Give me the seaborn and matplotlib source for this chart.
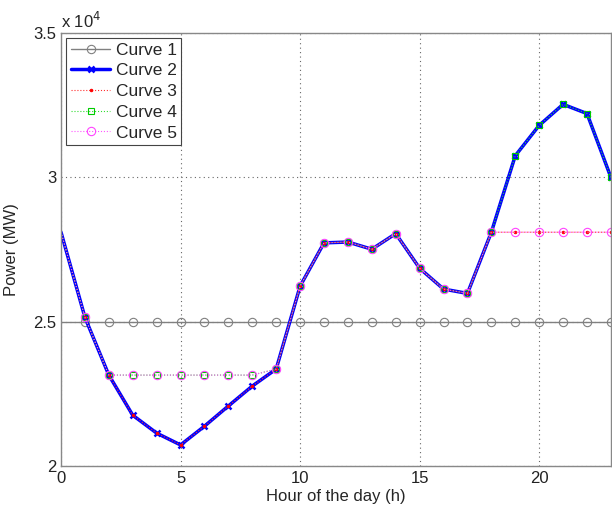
import matplotlib
matplotlib.use("Agg")
import matplotlib.pyplot as plt
import seaborn as sns

# Hourly data
hours = list(range(24))
curve1 = [25000] * 24
curve2 = [28100, 25150, 23150, 21760, 21140, 20730, 21380, 22080, 22770, 23360,
          26230, 27730, 27760, 27510, 28050, 26850, 26130, 25980, 28100, 30750,
          31800, 32530, 32210, 30000]
curve3 = [28100, 25150, 23150, 21760, 21140, 20730, 21380, 22080, 22770, 23360,
          26230, 27730, 27760, 27510, 28050, 26850, 26130, 25980, 28100, 28100,
          28100, 28100, 28100, 28100]
curve4 = [28100, 25150, 23150, 23150, 23150, 23150, 23150, 23150, 23150, 23360,
          26230, 27730, 27760, 27510, 28050, 26850, 26130, 25980, 28100, 30750,
          31800, 32530, 32210, 30000]
curve5 = [28100, 25150, 23150, 23150, 23150, 23150, 23150, 23150, 23150, 23360,
          26230, 27730, 27760, 27510, 28050, 26850, 26130, 25980, 28100, 28100,
          28100, 28100, 28100, 28100]
labels = ["Curve 1", "Curve 2", "Curve 3", "Curve 4", "Curve 5"]
y_ticks = [20000, 25000, 30000, 35000]
y_ticklabels = ["2", "2.5", "3", "3.5"]

sns.set_style("white")
plt.rcParams["font.family"] = ["Liberation Sans", "DejaVu Sans"]

fig = plt.figure(figsize=(6.12, 5.12), dpi=100)
ax = fig.add_axes([0.0997, 0.0898, 0.8985, 0.8457])

styles = [
    dict(color="#808080", lw=1.0, ls="-", marker="o", ms=6, mfc="none", mec="#808080", mew=0.8),
    dict(color="#0000ff", lw=2.5, ls="-", marker="x", ms=4.5, mec="#0000ff", mew=1.8),
    dict(color="#ff3030", lw=0.8, ls=":", marker=".", ms=3.5, mfc="#ff0000", mec="#ff0000"),
    dict(color="#33dd33", lw=0.8, ls=":", marker="s", ms=5, mfc="none", mec="#00cc00", mew=0.8),
    dict(color="#ff55ff", lw=0.8, ls=":", marker="o", ms=6, mfc="none", mec="#ff44ff", mew=0.8),
]
series = [curve1, curve2, curve3, curve4, curve5]
for vals, lab, st in zip(series, labels, styles):
    st = dict(st)
    color = st.pop("color")
    sns.lineplot(x=hours, y=vals, ax=ax, color=color, label=lab,
                 markevery=list(range(1, 24)), **st)

ax.set_xlim(0, 23)
ax.set_ylim(20000, 35000)
ax.set_xticks([0, 5, 10, 15, 20])
ax.set_yticks(y_ticks)
ax.set_yticklabels(y_ticklabels)
ax.tick_params(direction="in", labelsize=12, colors="#222222", length=4)
ax.grid(True, linestyle=(0, (1, 3)), color="#666666", lw=0.8)
for sp in ax.spines.values():
    sp.set_color("#888888")
    sp.set_linewidth(1.0)

ax.set_xlabel("Hour of the day (h)", fontsize=12, labelpad=2)
ax.set_ylabel("Power (MW)", fontsize=12, labelpad=10)
ax.text(0.0, 1.005, "x 10$^4$", transform=ax.transAxes, fontsize=12, ha="left", va="bottom")

leg = ax.legend(loc="upper left", fontsize=12.5, frameon=True, fancybox=False,
                edgecolor="#444444", framealpha=1, borderaxespad=0.3,
                handlelength=2.3, labelspacing=0.32, borderpad=0.25, handletextpad=0.3)
leg.get_frame().set_linewidth(0.8)

fig.savefig("out.png", dpi=100)
